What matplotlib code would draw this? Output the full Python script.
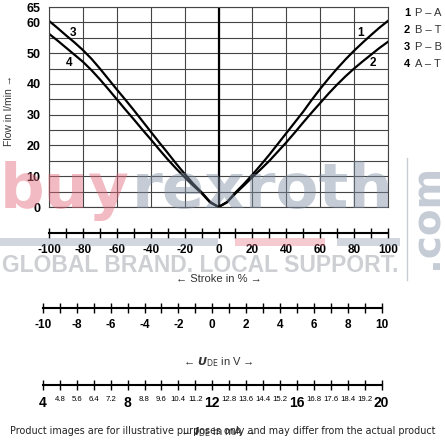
import numpy as np
import matplotlib
matplotlib.use("Agg")
from matplotlib import pyplot as plt

# stroke positions in %
stroke_right = [0, 5, 10, 15, 20, 25, 30, 35, 40, 45, 50, 55, 60, 65, 70, 75, 80, 85, 90, 95, 100]
stroke_left = [-100, -95, -90, -85, -80, -75, -70, -65, -60, -55, -50, -45, -40, -35, -30, -25, -20, -15, -10, -5, 0]

# flow in l/min
flow_PA = [0, 1.6, 4.7, 7.5, 10.5, 13.7, 17, 20.5, 24, 27.5, 31, 34.8, 38.4, 41.8, 45, 48, 50.8, 53.4, 55.9, 58.3, 60.5]
flow_BT = [0, 1.5, 4.4, 7, 9.7, 12.3, 15, 18, 21, 24.2, 27.5, 30.7, 33.8, 36.9, 39.8, 42.5, 45, 47.3, 49.5, 51.7, 53.7]
flow_PB = [60.5, 58.2, 55.8, 53.5, 51, 48.2, 45, 41.6, 38.2, 34.9, 31.5, 28, 24.5, 21, 17.6, 14.1, 10.8, 7.6, 4.8, 1.7, 0]
flow_AT = [56.3, 54.1, 51.8, 49.5, 47.2, 44.5, 41.5, 38.3, 35, 31.7, 28.5, 25.2, 22, 18.7, 15.5, 12.5, 9.7, 7, 4.5, 1.5, 0]

legend_nums = ["1", "2", "3", "4"]
legend_names = ["P – A", "B – T", "P – B", "A – T"]

stroke_ticks = list(range(-100, 101, 10))
volt_ticks = list(range(-10, 11))
current_ticks = [4, 4.8, 5.6, 6.4, 7.2, 8, 8.8, 9.6, 10.4, 11.2, 12, 12.8, 13.6, 14.4, 15.2, 16,
                 16.8, 17.6, 18.4, 19.2, 20]

plt.rcParams['font.family'] = ['Liberation Sans', 'DejaVu Sans']

W, H = 445, 440
fig = plt.figure(figsize=(W / 100, H / 100), dpi=100)


def fx(px):
    return px / W


def fy(py):
    return 1 - py / H


# main chart
ax = fig.add_axes([fx(49), fy(207), fx(388) - fx(49), fy(7) - fy(207)])
ax.set_xlim(-100, 100)
ax.set_ylim(0, 65)
ax.set_xticks(range(-100, 101, 20))
ax.set_yticks(list(range(0, 61, 10)) + [65])
ax.set_yticks(range(0, 66, 5), minor=True)
ax.grid(True, which='both', color='#444444', lw=0.8)
ax.tick_params(axis='x', labelbottom=False, length=0)
ax.tick_params(axis='y', which='both', length=0, pad=6, labelsize=9)
for t in ax.get_yticklabels():
    t.set_fontweight('bold')
for s in ax.spines.values():
    s.set_color('#444444')
    s.set_linewidth(0.8)
ax.axvline(0, color='black', lw=1.6)

ax.plot(stroke_right, flow_PA, color='black', lw=1.6)
ax.plot(stroke_right, flow_BT, color='black', lw=1.6)
ax.plot(stroke_left, flow_PB, color='black', lw=1.6)
ax.plot(stroke_left, flow_AT, color='black', lw=1.6)

ax.text(84, 56.5, "1", fontsize=8.5, fontweight='bold', ha='center', va='center')
ax.text(91, 46.7, "2", fontsize=8.5, fontweight='bold', ha='center', va='center')
ax.text(-86, 56.4, "3", fontsize=8.5, fontweight='bold', ha='center', va='center')
ax.text(-88, 46.7, "4", fontsize=8.5, fontweight='bold', ha='center', va='center')

fig.text(fx(9), fy(110), "Flow in l/min →", fontsize=7.5, rotation=90, color='#333333',
         ha='center', va='center')

# legend on the right
for i, (n, name) in enumerate(zip(legend_nums, legend_names)):
    y = 12.5 + i * 17.3
    fig.text(fx(407), fy(y), n, fontsize=8, fontweight='bold', ha='center', va='center')
    fig.text(fx(415), fy(y), name, fontsize=8, ha='left', va='center', color='#333333')


def scale_axis(ypx, lo, hi, x0, x1, ticks):
    a = fig.add_axes([fx(x0), fy(ypx), fx(x1) - fx(x0), 0.0001])
    a.set_xlim(lo, hi)
    a.set_ylim(0, 1)
    a.patch.set_visible(False)
    for k in ['left', 'right', 'top']:
        a.spines[k].set_visible(False)
    a.spines['bottom'].set_linewidth(1.5)
    a.set_yticks([])
    a.set_xticks(ticks)
    a.tick_params(axis='x', direction='inout', length=6.5, width=1.0, pad=5, labelsize=8.5)
    return a


# stroke scale
ax1 = scale_axis(233, -100, 100, 49, 388, stroke_ticks)
ax1.set_xticklabels([str(v) if v % 20 == 0 else "" for v in stroke_ticks], fontweight='bold')
fig.text(fx(218.5), fy(279), "← Stroke in % →", fontsize=8, color='#333333', ha='center', va='center')

# voltage scale
ax2 = scale_axis(308, -10, 10, 43, 381.5, volt_ticks)
ax2.set_xticklabels([str(v) if v % 2 == 0 else "" for v in volt_ticks], fontweight='bold')
fig.text(fx(218), fy(362), r"← $\mathbfit{U}_{\mathrm{DE}}$ in V →", fontsize=8, color='#333333',
         ha='center', va='center')

# current scale
ax3 = scale_axis(385, 4, 20, 43, 381.5, current_ticks)
labels = []
for v in current_ticks:
    labels.append(str(int(v)) if v % 4 == 0 else str(v))
ax3.set_xticklabels(labels)
for v, t in zip(current_ticks, ax3.get_xticklabels()):
    if v % 4 == 0:
        t.set_fontsize(10)
        t.set_fontweight('bold')
    else:
        t.set_fontsize(5.6)
fig.text(fx(218), fy(432), r"← $\mathbfit{I}_{\mathrm{DE}}$ in mA →", fontsize=8, color='#333333',
         ha='center', va='center')

# watermark
fig.text(fx(0), fy(208), "buy", fontsize=45, fontweight='bold', color='#e46a7c', alpha=0.45,
         family='DejaVu Sans', va='baseline', ha='left', zorder=10)
fig.text(fx(132), fy(208), "rexroth", fontsize=45, fontweight='bold', color='#7f8ea4', alpha=0.45,
         family='DejaVu Sans', va='baseline', ha='left', zorder=10)
fig.patches.append(plt.Rectangle((fx(0), fy(246)), fx(218), fy(238) - fy(246), transform=fig.transFigure,
                                 color='#7f8ea4', alpha=0.35, lw=0, zorder=9))
fig.patches.append(plt.Rectangle((fx(235), fy(246)), fx(90), fy(238) - fy(246), transform=fig.transFigure,
                                 color='#e46a7c', alpha=0.35, lw=0, zorder=9))
fig.patches.append(plt.Rectangle((fx(337), fy(246)), fx(63), fy(238) - fy(246), transform=fig.transFigure,
                                 color='#7f8ea4', alpha=0.35, lw=0, zorder=9))
fig.text(fx(200), fy(265), "GLOBAL BRAND. LOCAL SUPPORT.", fontsize=16.5, fontweight='bold',
         color='#a4a9b0', alpha=0.55, family='Liberation Sans', ha='center', va='center', zorder=10)
fig.lines.append(plt.Line2D([fx(407), fx(407)], [fy(158), fy(280)], transform=fig.transFigure,
                            color='#c8ccd2', lw=1.0))
fig.text(fx(427), fy(216), ".com", fontsize=28, fontweight='bold', color='#7f8ea4', alpha=0.45,
         family='DejaVu Sans', rotation=90, ha='center', va='center', zorder=10)

fig.text(0.5, fy(431), "Product images are for illustrative purposes only and may differ from the actual product",
         fontsize=6.9, family='DejaVu Sans', color='#222222', ha='center', va='center', zorder=11)

fig.savefig("out.png", dpi=100)
